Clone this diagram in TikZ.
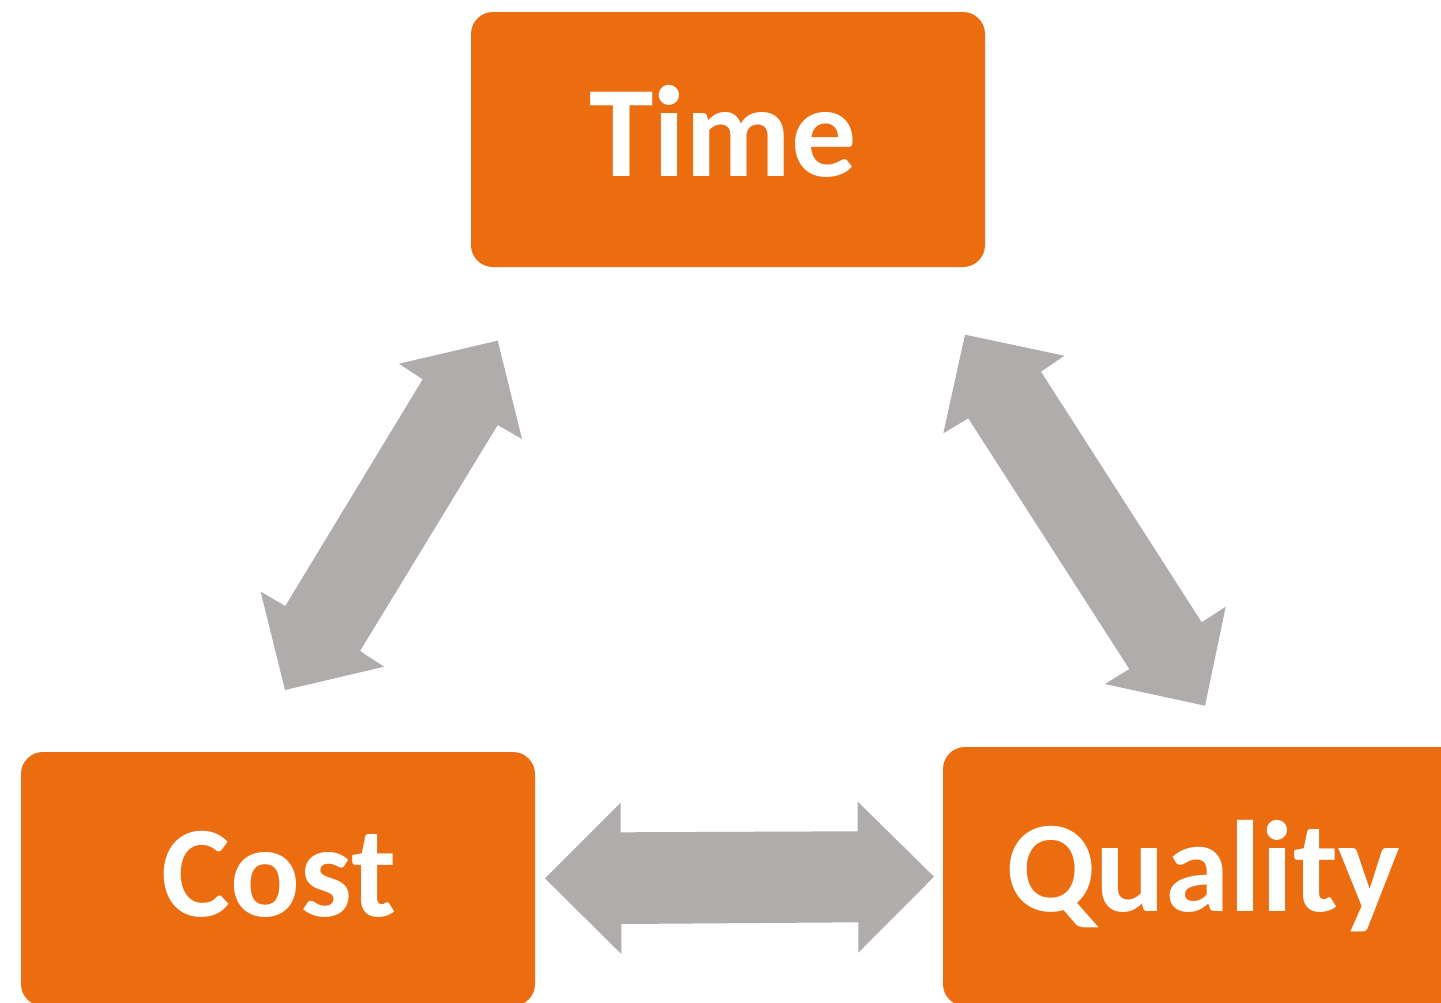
\documentclass[tikz,border=0pt]{standalone}
\usepackage{fontspec}
\setmainfont{Carlito}
\definecolor{boxorange}{HTML}{EB6D10}
\definecolor{arrowgray}{HTML}{AFACAB}
\begin{document}
\begin{tikzpicture}[x=1pt,y=-1pt,
  box/.style={fill=boxorange,draw=none,rounded corners=22pt,inner sep=0pt},
  lbl/.style={text=white,inner sep=0pt,anchor=base,font=\fontsize{130}{156}\selectfont\bfseries},
  blockarrow/.style={fill=arrowgray,draw=none}]
\clip (0,0) rectangle (1441,1002);
\fill[white] (0,0) rectangle (1441,1002);
% boxes
\path[box] (471,12) rectangle (985,267);
\node[inner sep=0pt] (time) at (728,139.5) {};
\path[box] (21,752) rectangle (535,1006);
\node[inner sep=0pt] (cost) at (278,879) {};
\path[box] (943,747) rectangle (1470,1006);
\node[inner sep=0pt] (quality) at (1206,876) {};
% labels
\node[lbl] (timelbl) at (723,176) {Time};
\node[lbl] (costlbl) at (279,916) {Cost};
\node[lbl] (qualitylbl) at (1203,911) {Quality};
% arrow Cost <-> Time
\fill[blockarrow] (497.7,340.7) -- (522,439) -- (497.7,425) -- (360,651) -- (384,666.7)
  -- (285,690) -- (260.7,591.7) -- (285.3,606) -- (422.7,379.3) -- (399,363.7) -- cycle;
% arrow Time <-> Quality
\fill[blockarrow] (965,334.7) -- (1064.3,355.7) -- (1041,371.7) -- (1201.7,622.3) -- (1225.7,606.7)
  -- (1205,705.7) -- (1105,684) -- (1129.3,669) -- (968.3,418.3) -- (943.3,433.3) -- cycle;
% arrow Cost <-> Quality
\fill[blockarrow] (545,878.3) -- (620.7,802.7) -- (620.7,832.3) -- (857.7,831.3) -- (857.7,801.7)
  -- (934,876.7) -- (858.3,952.7) -- (858.3,922.3) -- (621.3,924) -- (621.3,954) -- cycle;
\end{tikzpicture}
\end{document}
